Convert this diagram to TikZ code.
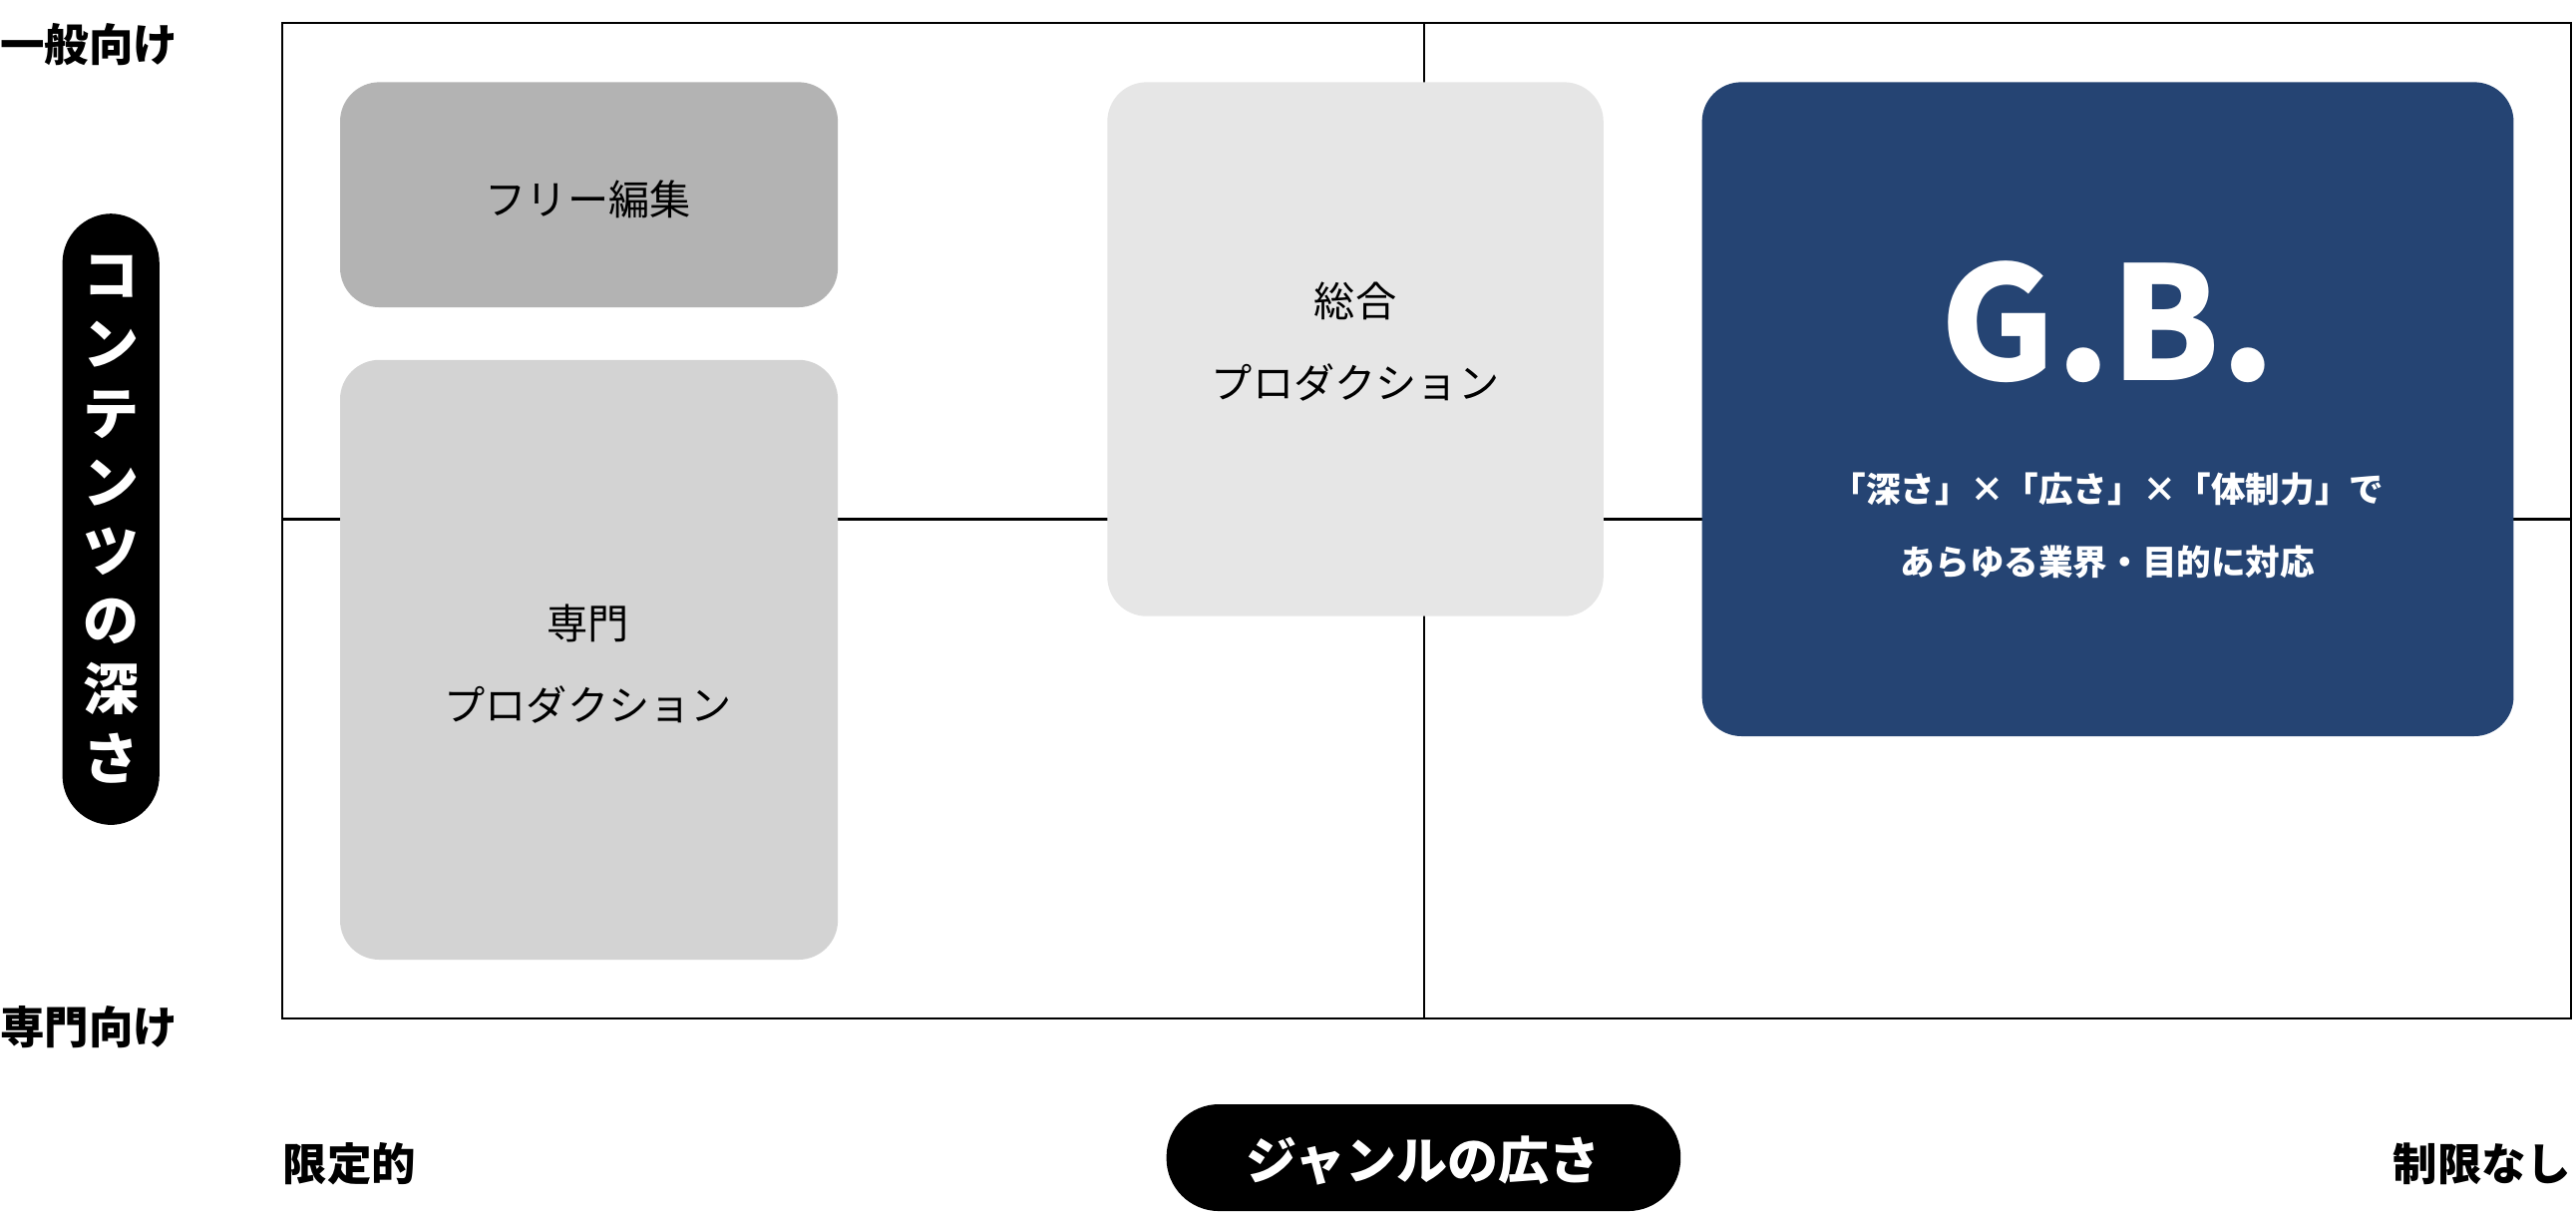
\documentclass[tikz,border=0pt]{standalone}
\usepackage{fontspec}
\setmainfont{Noto Sans CJK JP}
\newfontfamily\gbfont{Noto Sans CJK JP}
\definecolor{gbblue}{HTML}{254473}
\definecolor{gA}{HTML}{B3B3B3}
\definecolor{gB}{HTML}{D3D3D3}
\definecolor{gC}{HTML}{E6E6E6}
\begin{document}
\begin{tikzpicture}[x=1pt,y=-1pt,
  boxA/.style={rounded corners=24pt,inner sep=0pt},
  lab/.style={font=\fontsize{27}{33}\selectfont\bfseries,inner sep=0pt},
  boxtxt/.style={font=\fontsize{25}{50}\selectfont,align=center,inner sep=0pt},
  pill/.style={fill=black,rounded corners=30pt}]
\useasboundingbox (0,0) rectangle (1568,738);
\draw[line width=1.3pt] (172,14) rectangle (1565,620);
\coordinate (vt) at (867,14); \coordinate (vb) at (867,620);
\coordinate (hl) at (172,316); \coordinate (hr) at (1565,316);
\draw[line width=1.3pt] (vt) -- (vb);
\draw[line width=1.3pt] (hl) -- (hr);
\fill[gA,boxA] (207,50) rectangle (510,187);
\fill[gB,boxA] (207,219) rectangle (510,584);
\fill[gC,boxA] (674,50) rectangle (976,375);
\fill[gbblue,boxA] (1036,50) rectangle (1530,448);
\node[boxtxt] (free) at (358,121) {フリー編集};
\node[boxtxt] (sogo) at (825,208) {総合\\プロダクション};
\node[boxtxt] (senmon) at (358,404) {専門\\プロダクション};
\node[inner sep=0pt,text=white,font=\fontsize{96}{96}\selectfont\bfseries] (gb) at (1283,196) {G.B.};
\node[inner sep=0pt,text=white,align=center,font=\fontsize{21}{44}\selectfont\bfseries] (gbtxt) at (1283,320) {「深さ」×「広さ」×「体制力」で\\あらゆる業界・目的に対応};
\fill[pill] (38,130) rectangle (97,502);
\node[text=white,align=center,inner sep=0pt,font=\fontsize{34}{42}\selectfont\bfseries] (depth) at (67.5,316) {コ\\ン\\テ\\ン\\ツ\\の\\深\\さ};
\fill[pill,rounded corners=32pt] (710,672) rectangle (1023,737);
\node[text=white,inner sep=0pt,font=\fontsize{31}{36}\selectfont\bfseries] (genre) at (866.5,706) {ジャンルの広さ};
\node[lab,anchor=west] (ippan) at (0,27) {一般向け};
\node[lab,anchor=west] (senmonmuke) at (0,625) {専門向け};
\node[lab,anchor=west] (gentei) at (172,708) {限定的};
\node[lab,anchor=east] (seigen) at (1565,708) {制限なし};
\end{tikzpicture}
\end{document}
